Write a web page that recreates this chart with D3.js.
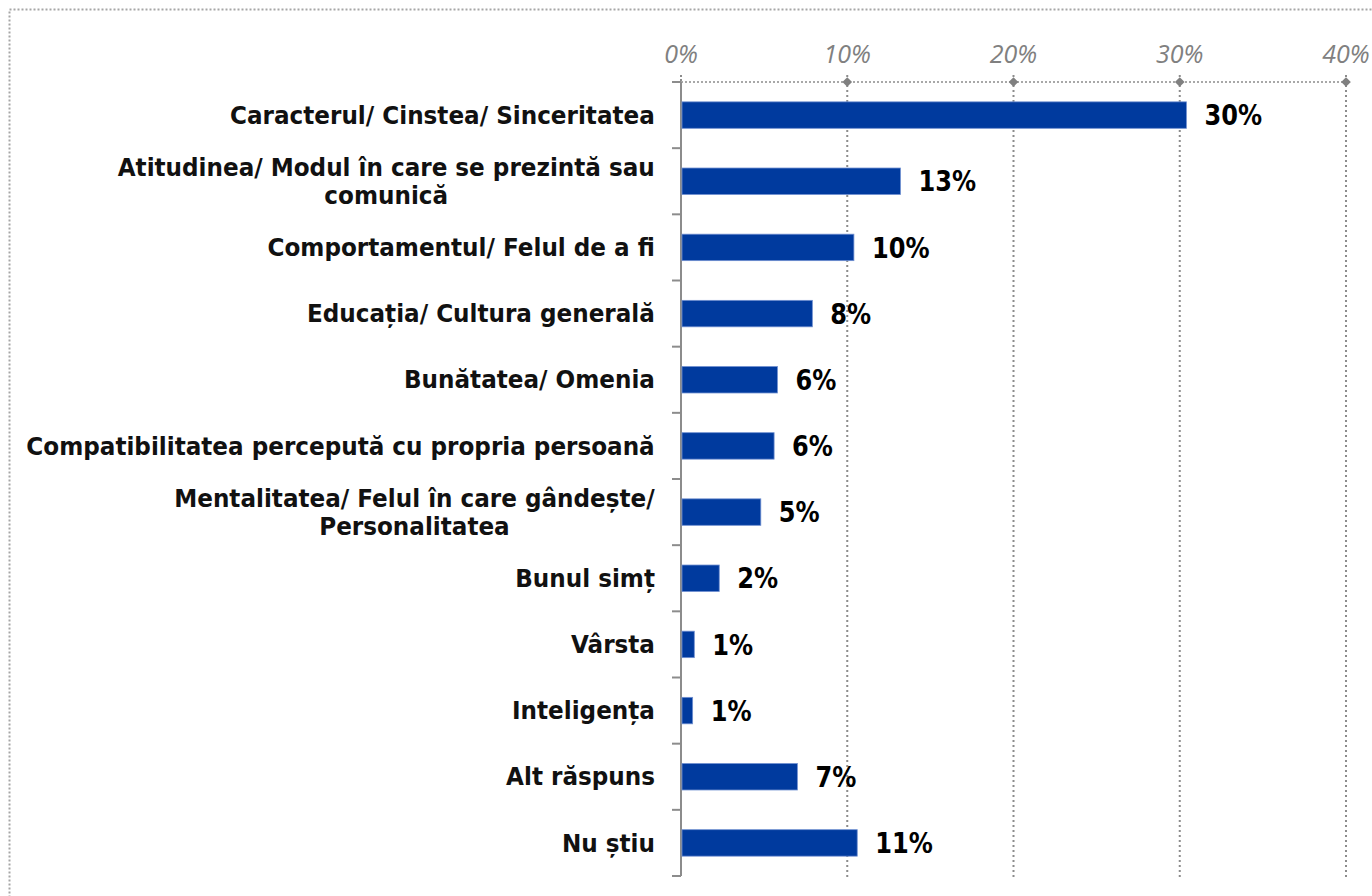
<!DOCTYPE html>
<html>
<head>
<meta charset="utf-8">
<script src="https://cdn.jsdelivr.net/npm/d3@7/dist/d3.min.js"></script>
<style>
  html, body { margin: 0; padding: 0; background: #fff; }
  svg { display: block; }
  .cat { font-family: "DejaVu Sans", sans-serif; font-weight: bold; fill: #111; }
  .val { font-family: "DejaVu Sans", sans-serif; font-weight: bold; fill: #000; }
  .tick-lbl { font-family: "Open Sans", "Noto Sans", sans-serif; font-style: italic; font-weight: 400; fill: #808080; }
</style>
</head>
<body>
<svg id="chart" width="1372" height="896"></svg>
<script>
const categories = [
  ["Caracterul/ Cinstea/ Sinceritatea"],
  ["Atitudinea/ Modul în care se prezintă sau", "comunică"],
  ["Comportamentul/ Felul de a fi"],
  ["Educația/ Cultura generală"],
  ["Bunătatea/ Omenia"],
  ["Compatibilitatea percepută cu propria persoană"],
  ["Mentalitatea/ Felul în care gândește/", "Personalitatea"],
  ["Bunul simț"],
  ["Vârsta"],
  ["Inteligența"],
  ["Alt răspuns"],
  ["Nu știu"]
];
const values = [30.4, 13.2, 10.4, 7.9, 5.8, 5.6, 4.8, 2.3, 0.8, 0.7, 7.0, 10.6];
const valueLabels = ["30%", "13%", "10%", "8%", "6%", "6%", "5%", "2%", "1%", "1%", "7%", "11%"];
const tickValues = [0, 10, 20, 30, 40];
const tickLabels = ["0%", "10%", "20%", "30%", "40%"];

function draw() {
const svg = d3.select("#chart");
svg.selectAll("*").remove();
const W = 1372, H = 896;

svg.append("rect").attr("x", 9.5).attr("y", 9.5).attr("width", W + 20).attr("height", H + 20)
  .attr("fill", "none").attr("stroke", "#a6a6a6").attr("stroke-width", 2).attr("stroke-dasharray", "2,2");

const x = d3.scaleLinear().domain([0, 40]).range([681, 1346]);
const idx = categories.map((d, i) => i);
const y = d3.scaleBand().domain(idx).range([82, 876]).paddingInner(0.6).paddingOuter(0.3);
const bandTop = i => 82 + i * (794 / categories.length);

svg.append("g").selectAll("line").data(tickValues.filter(t => t > 0)).join("line")
  .attr("x1", d => x(d)).attr("x2", d => x(d))
  .attr("y1", 75).attr("y2", 878)
  .attr("stroke", "#8c8c8c").attr("stroke-width", 2).attr("stroke-dasharray", "2,3");
svg.append("line").attr("x1", x(0)).attr("x2", x(0)).attr("y1", 75).attr("y2", 82)
  .attr("stroke", "#8c8c8c").attr("stroke-width", 2).attr("stroke-dasharray", "2,2");

svg.append("line").attr("x1", x(0)).attr("x2", x(40)).attr("y1", 82).attr("y2", 82)
  .attr("stroke", "#8c8c8c").attr("stroke-width", 1.5).attr("stroke-dasharray", "2,2");

svg.append("g").selectAll("path").data(tickValues.filter(t => t > 0)).join("path")
  .attr("d", d3.symbol().type(d3.symbolDiamond2).size(60))
  .attr("transform", d => `translate(${x(d)},82)`)
  .attr("fill", "#808080");

svg.append("g").selectAll("text").data(tickValues).join("text")
  .attr("class", "tick-lbl")
  .attr("x", d => x(d)).attr("y", 63)
  .attr("text-anchor", "middle").attr("font-size", 25)
  .text((d, i) => tickLabels[i]);

svg.append("line").attr("x1", x(0)).attr("x2", x(0)).attr("y1", 82).attr("y2", 876)
  .attr("stroke", "#8c8c8c").attr("stroke-width", 2);
svg.append("g").selectAll("line").data(d3.range(categories.length + 1)).join("line")
  .attr("x1", 672).attr("x2", x(0))
  .attr("y1", d => bandTop(d)).attr("y2", d => bandTop(d))
  .attr("stroke", "#8c8c8c").attr("stroke-width", 2);

svg.append("g").selectAll("rect").data(values).join("rect")
  .attr("x", x(0) + 1).attr("y", (d, i) => y(i))
  .attr("width", d => x(d) - x(0) - 1).attr("height", y.bandwidth())
  .attr("fill", "#003A9E").attr("stroke", "#6f8fd0").attr("stroke-width", 0.8);

const valFs = 28, valSx = 0.86;
svg.append("g").selectAll("g").data(values).join("g")
  .attr("transform", (d, i) => `translate(${x(d) + 18},${y(i) + y.bandwidth() / 2}) scale(${valSx},1)`)
  .append("text").attr("class", "val")
  .attr("dy", "0.36em").attr("font-size", valFs)
  .text((d, i) => valueLabels[i]);

const fs = 24;
const catG = svg.append("g");
const measure = s => {
  const tmp = catG.append("text").attr("class", "cat").attr("font-size", fs).text(s);
  const w = tmp.node().getBBox().width;
  tmp.remove();
  return w;
};
const sx = 640 / measure("Compatibilitatea perceptută cu propria persoană");
const lineH = 28;
const right = 655;
catG.selectAll("g").data(categories).join("g")
  .attr("transform", (d, i) => `translate(${right},${y(i) + y.bandwidth() / 2}) scale(${sx},1)`)
  .each(function(lines) {
    const widths = lines.map(measure);
    const maxW = d3.max(widths);
    const t = d3.select(this).append("text").attr("class", "cat").attr("font-size", fs);
    const n = lines.length;
    lines.forEach((l, k) => {
      t.append("tspan").attr("x", -maxW / 2).attr("text-anchor", "middle")
        .attr("y", (k - (n - 1) / 2) * lineH).attr("dy", "0.36em").text(l);
    });
  });
}
draw();
if (document.fonts && document.fonts.ready) document.fonts.ready.then(draw);
</script>
</body>
</html>
